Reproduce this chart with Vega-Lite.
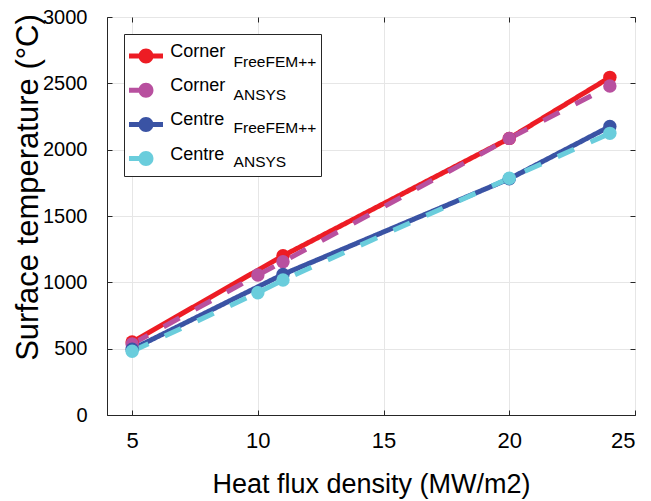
{
  "$schema": "https://vega.github.io/schema/vega-lite/v6.json",
  "width": 528,
  "height": 398,
  "autosize": {"type": "none"},
  "padding": {"left": 107, "top": 17, "right": 16, "bottom": 86},
  "background": "white",
  "config": {
    "font": "Liberation Sans",
    "view": {"stroke": "#262626", "strokeWidth": 1},
    "axis": {
      "domainColor": "#262626",
      "tickColor": "#262626",
      "gridColor": "#e6e6e6",
      "gridOpacity": 1,
      "labelColor": "#000000",
      "titleColor": "#000000",
      "labelFont": "Liberation Sans",
      "titleFont": "Liberation Sans",
      "titleFontWeight": "normal"
    },
    "legend": {"labelFont": "Liberation Sans", "labelColor": "#000000"}
  },
  "resolve": {"axis": {"x": "independent", "y": "independent"}},
  "data": {
    "values": [
      {"series": "Corner FreeFEM++", "flux": 5, "temp": 550},
      {"series": "Corner FreeFEM++", "flux": 11, "temp": 1200},
      {"series": "Corner FreeFEM++", "flux": 20, "temp": 2085},
      {"series": "Corner FreeFEM++", "flux": 24, "temp": 2545},
      {"series": "Corner ANSYS", "flux": 5, "temp": 535},
      {"series": "Corner ANSYS", "flux": 10, "temp": 1055},
      {"series": "Corner ANSYS", "flux": 11, "temp": 1155},
      {"series": "Corner ANSYS", "flux": 20, "temp": 2085},
      {"series": "Corner ANSYS", "flux": 24, "temp": 2480},
      {"series": "Centre FreeFEM++", "flux": 5, "temp": 495},
      {"series": "Centre FreeFEM++", "flux": 11, "temp": 1060},
      {"series": "Centre FreeFEM++", "flux": 20, "temp": 1780},
      {"series": "Centre FreeFEM++", "flux": 24, "temp": 2175},
      {"series": "Centre ANSYS", "flux": 5, "temp": 480},
      {"series": "Centre ANSYS", "flux": 10, "temp": 922},
      {"series": "Centre ANSYS", "flux": 11, "temp": 1017},
      {"series": "Centre ANSYS", "flux": 20, "temp": 1785},
      {"series": "Centre ANSYS", "flux": 24, "temp": 2123}
    ]
  },
  "layer": [
    {
      "mark": {"type": "line", "strokeWidth": 5, "strokeCap": "butt"},
      "encoding": {
        "x": {
          "field": "flux", "type": "quantitative",
          "scale": {"domain": [4, 25], "nice": false, "zero": false},
          "axis": {
            "orient": "bottom",
            "values": [5, 10, 15, 20, 25],
            "title": "Heat flux density (MW/m2)",
            "titleFontSize": 27,
            "labelFontSize": 22,
            "tickSize": -5,
            "labelPadding": 20,
            "titleBaseline": "alphabetic",
            "titleY": 77,
            "grid": true
          }
        },
        "y": {
          "field": "temp", "type": "quantitative",
          "scale": {"domain": [0, 3000], "nice": false},
          "axis": {
            "orient": "left",
            "values": [0, 500, 1000, 1500, 2000, 2500, 3000],
            "format": "d",
            "title": "Surface temperature (°C)",
            "titleFontSize": 31,
            "labelFontSize": 20,
            "tickSize": -5,
            "labelPadding": 25,
            "titleBaseline": "alphabetic",
            "titleAlign": "center",
            "titleAngle": -90,
            "titleX": -70,
            "titleY": 170,
            "grid": true
          }
        },
        "color": {
          "field": "series", "type": "nominal",
          "scale": {
            "domain": ["Corner FreeFEM++", "Corner ANSYS", "Centre FreeFEM++", "Centre ANSYS"],
            "range": ["#ED1C24", "#B8509F", "#3A53A4", "#6ACDDC"]
          },
          "legend": {
            "orient": "top-left",
            "offset": 16.5,
            "title": null,
            "padding": 5,
            "fillColor": "white",
            "strokeColor": "#262626",
            "symbolType": "M-1,-0.147H1V0.147H-1ZM0.44,0A0.44,0.44,0,1,1,-0.44,0A0.44,0.44,0,1,1,0.44,0ZM0,-0.865L0,-0.865M0,0.71L0,0.71M10,0L10,0",
            "symbolSize": 1156,
            "symbolStrokeWidth": 0,
            "labelFontSize": 18,
            "labelOffset": 7.3,
            "labelLimit": 400,
            "rowPadding": 4.2,
            "labelExpr": "split(datum.label, ' ')[0]",
            "encode": {
              "labels": {"update": {"dy": {"value": -4}}},
              "symbols": {
                "update": {
                  "shape": {"signal": "indexof(datum.value, 'ANSYS') >= 0 ? 'M-1,-0.147H-0.35V0.147H-1ZM0.44,0A0.44,0.44,0,1,1,-0.44,0A0.44,0.44,0,1,1,0.44,0ZM0,-0.865L0,-0.865M0,0.71L0,0.71M10,0L10,0' : 'M-1,-0.147H1V0.147H-1ZM0.44,0A0.44,0.44,0,1,1,-0.44,0A0.44,0.44,0,1,1,0.44,0ZM0,-0.865L0,-0.865M0,0.71L0,0.71M10,0L10,0'"},
                  "fill": {"scale": "color", "field": "value"},
                  "strokeWidth": {"value": 0},
                  "opacity": {"value": 1}
                }
              }
            }
          }
        },
        "strokeDash": {
          "field": "series", "type": "nominal",
          "scale": {
            "domain": ["Corner FreeFEM++", "Corner ANSYS", "Centre FreeFEM++", "Centre ANSYS"],
            "range": [[1, 0], [18, 18], [1, 0], [18, 18]]
          },
          "legend": null
        }
      }
    },
    {
      "mark": {"type": "point", "filled": true, "size": 180, "opacity": 1},
      "encoding": {
        "x": {
          "field": "flux", "type": "quantitative",
          "axis": {"orient": "top", "values": [5, 10, 15, 20, 25], "labels": false, "title": null, "grid": false, "domain": false, "tickSize": -5}
        },
        "y": {
          "field": "temp", "type": "quantitative",
          "axis": {"orient": "right", "values": [0, 500, 1000, 1500, 2000, 2500, 3000], "labels": false, "title": null, "grid": false, "domain": false, "tickSize": -5}
        },
        "color": {"field": "series", "type": "nominal"},
        "shape": {
          "field": "series", "type": "nominal",
          "scale": {
            "domain": ["Corner FreeFEM++", "Corner ANSYS", "Centre FreeFEM++", "Centre ANSYS"],
            "range": ["circle", "circle", "circle", "circle"]
          },
          "legend": {
            "orient": "none",
            "legendX": 60,
            "legendY": 29.5,
            "title": null,
            "padding": 0,
            "symbolSize": 864,
            "symbolOpacity": 0,
            "labelFontSize": 15.5,
            "labelOffset": 35.6,
            "rowPadding": 2.2,
            "labelExpr": "split(datum.label, ' ')[1]",
            "encode": {"symbols": {"update": {"opacity": {"value": 0}}}}
          }
        }
      }
    }
  ]
}
